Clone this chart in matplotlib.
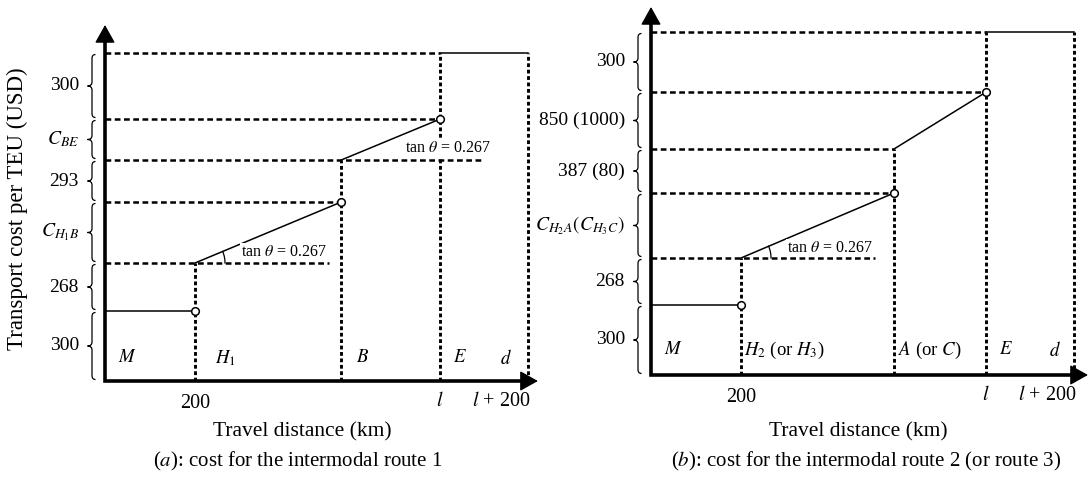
import numpy as np
import matplotlib.pyplot as plt
from matplotlib.path import Path
from matplotlib.patches import PathPatch

plt.rcParams['font.family'] = ['Liberation Serif', 'DejaVu Serif']
plt.rcParams['mathtext.fontset'] = 'stix'

W, H = 1089, 483
PX_PER_KM = 0.45   # horizontal scale of the sketch

# ---------------------------------------------------------------------------
# Panel data (schematic distances in km, cost levels in sketch units)
# ---------------------------------------------------------------------------

# (a) intermodal route 1: breakpoints 200, B, l, l+200
A_X = [200, 525, 745, 940]
A_LEVELS = [70, 118, 179, 221, 262, 328]
A_BRACES = ["300", "268", r"$C_{H_1B}$", "293", r"$C_{BE}$", "300"]
A_REGIONS = [r"$M$", r"$H_1$", r"$B$", r"$E$", r"$d$"]
A_REGION_X = [49, 267, 573, 789, 891]

# (b) intermodal route 2 (or 3): breakpoints 200, A, l, l+200
B_X = [200, 540, 745, 940]
B_LEVELS = [70, 117, 182, 226, 283, 343]
B_BRACES = ["300", "268", r"$C_{H_2A}\left(C_{H_3C}\right)$",
            "387 (80)", "850 (1000)", "300"]
B_REGIONS = [r"$M$", r"$H_2$ (or $H_3$)", r"$A$ (or $C$)", r"$E$", r"$d$"]
B_REGION_X = [49, 296, 620, 789, 898]

TICKS = ["200", r"$l$", r"$l$ + 200"]
SLOPE_LABEL = r"tan $\theta$ = 0.267"


def brace(ax, x, y0, y1, w_tip=3.5, w_mid=4.5, r=4.0):
    """Left curly brace from y0 to y1 (spine at x, pixel sizes)."""
    k = 1.0 / PX_PER_KM
    ym = 0.5 * (y0 + y1)
    r = min(r, (y1 - y0) / 4)
    verts = [(x + w_tip * k, y1), (x, y1), (x, y1 - r),
             (x, ym + r), (x, ym), (x - w_mid * k, ym),
             (x, ym), (x, ym - r),
             (x, y0 + r), (x, y0), (x + w_tip * k, y0)]
    codes = [Path.MOVETO, Path.CURVE3, Path.CURVE3,
             Path.LINETO, Path.CURVE3, Path.CURVE3,
             Path.CURVE3, Path.CURVE3,
             Path.LINETO, Path.CURVE3, Path.CURVE3]
    ax.add_patch(PathPatch(Path(verts, codes), fill=False, lw=0.9,
                           ec="k", clip_on=False))


def draw_panel(ax, origin, xs, lv, braces, regions, region_x, ext2, ext4,
               top, right, region_y, tan_pos, xlabel_x, caption, caption_x):
    ox, oy = origin
    ax.set_xlim(-ox / PX_PER_KM, (W - ox) / PX_PER_KM)
    ax.set_ylim(oy - H, oy)
    ax.axis("off")

    x200, xb, xl, xl2 = xs
    L1, L2, L3, L4, L5, L6 = lv

    hd = dict(color="k", lw=1.8, ls=(0, (2.3, 1.4)))
    vd = dict(color="k", lw=2.1, ls=(0, (1.3, 0.9)))
    sl = dict(color="k", lw=1.1)

    # dashed guide lines
    ax.plot([0, ext2], [L2, L2], **hd)
    ax.plot([0, xb], [L3, L3], **hd)
    ax.plot([0, ext4], [L4, L4], **hd)
    ax.plot([0, xl], [L5, L5], **hd)
    ax.plot([0, xl], [L6, L6], **hd)
    ax.plot([x200, x200], [0, L2], **vd)
    ax.plot([xb, xb], [0, L4], **vd)
    ax.plot([xl, xl], [0, L6], **vd)
    ax.plot([xl2, xl2], [0, L6], **vd)

    # cost function
    ax.plot([0, x200], [L1, L1], **sl)
    ax.plot([x200, xb], [L2, L3], **sl)
    ax.plot([xb, xl], [L4, L5], **sl)
    ax.plot([xl, xl2], [L6, L6], **sl)
    ax.plot([x200, xb, xl], [L1, L3, L5], "o", mfc="white", mec="k",
            ms=5.5, mew=1.1, zorder=5)

    # angle arc
    phi = np.arctan2(L3 - L2, (xb - x200) * PX_PER_KM)
    t = np.linspace(0, phi, 30)
    rad = 30
    ax.plot(x200 + rad * np.cos(t) / PX_PER_KM, L2 + rad * np.sin(t),
            color="k", lw=0.9)

    # axes with arrow heads
    head = 15 / PX_PER_KM
    ax.plot([0, 0, right - 10 / PX_PER_KM], [top - 10, 0, 0], color="k",
            lw=2.6, solid_joinstyle="miter", solid_capstyle="butt")
    ap = dict(arrowstyle="-|>,head_length=0.75,head_width=0.42",
              mutation_scale=15, color="k", lw=1, shrinkA=0, shrinkB=0)
    ax.annotate("", xy=(0, top), xytext=(0, top - 14), arrowprops=ap)
    ax.annotate("", xy=(right, 0), xytext=(right - head, 0), arrowprops=ap)

    # braces on the cost axis
    bx = -13 / PX_PER_KM
    lab_x = -26 / PX_PER_KM
    edges = [0] + list(lv)
    for y0, y1, txt in zip(edges[:-1], edges[1:], braces):
        brace(ax, bx, y0 + 1.5, y1 - 1.5)
        ax.text(lab_x, 0.5 * (y0 + y1), txt, ha="right", va="center",
                fontsize=14)

    # region labels
    for x, txt in zip(region_x, regions):
        ax.text(x, region_y, txt, ha="center", va="center", fontsize=13.5)

    # slope labels (white box breaks the guide lines behind them)
    for (tx, ty) in tan_pos:
        ax.text(tx, ty, SLOPE_LABEL, ha="left", va="center", fontsize=11.5,
                zorder=6,
                bbox=dict(fc="white", ec="none", pad=0.5))

    # distance ticks
    ax.text(x200, -22, TICKS[0], ha="center", va="center", fontsize=14.5)
    ax.text(xl, -20, TICKS[1], ha="center", va="center", fontsize=14.5)
    ax.text(xl2 + 2 / PX_PER_KM, -21, TICKS[2], ha="right", va="center",
            fontsize=14.5)

    ax.text(xlabel_x, oy - 432, "Travel distance (km)", ha="center",
            va="center", fontsize=15.5)
    ax.text(caption_x, oy - 461, caption, ha="center", va="center",
            fontsize=15)


fig = plt.figure(figsize=(W / 100, H / 100), dpi=100)
ax_a = fig.add_axes([0, 0, 1, 1])
ax_b = fig.add_axes([0, 0, 1, 1])
ax_b.patch.set_alpha(0)

draw_panel(ax_a, (105, 381), A_X, A_LEVELS, A_BRACES, A_REGIONS, A_REGION_X,
           ext2=498, ext4=842, top=356, right=962, region_y=23,
           tan_pos=[(302, 129), (666, 233)],
           xlabel_x=(302 - 105) / PX_PER_KM,
           caption=r"($a$): cost for the intermodal route 1",
           caption_x=(298 - 105) / PX_PER_KM)

draw_panel(ax_b, (651, 375), B_X, B_LEVELS, B_BRACES, B_REGIONS, B_REGION_X,
           ext2=498, ext4=540, top=368, right=971, region_y=25,
           tan_pos=[(302, 127)],
           xlabel_x=(858 - 651) / PX_PER_KM,
           caption=r"($b$): cost for the intermodal route 2 (or route 3)",
           caption_x=(866 - 651) / PX_PER_KM)

ax_a.text(-88 / PX_PER_KM, 381 - 209, "Transport cost per TEU (USD)",
          rotation=90, ha="center", va="center", fontsize=16.5)

fig.savefig("out.png", dpi=100)
